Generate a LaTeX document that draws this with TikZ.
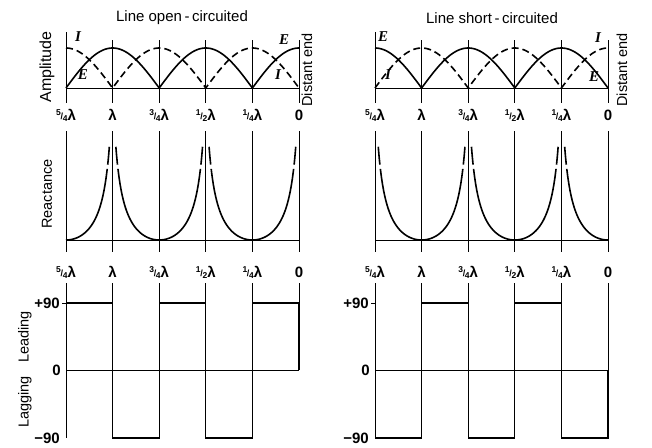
\documentclass[tikz,border=0pt]{standalone}
\usepackage{fontspec}
\setmainfont{Liberation Sans}
\newfontfamily\letterfont{Liberation Serif}
\usepackage{tikz}
\usetikzlibrary{positioning}
\newcommand{\fr}[2]{\raisebox{0.6ex}{\fontsize{8.5}{8.5}\selectfont#1}\kern-0.02em\raisebox{0.1ex}{\fontsize{9}{9}\selectfont/}\kern-0.02em\raisebox{-0.1ex}{\fontsize{8.5}{8.5}\selectfont#2}}
\tikzset{
  grid line/.style={line width=0.8pt},
  E curve/.style={line width=1.6pt},
  I curve/.style={line width=1.6pt, dash pattern=on 7pt off 4pt},
  wave/.style={line width=1.3pt},
  tick label/.style={font=\fontsize{15}{15}\selectfont\bfseries, inner sep=0pt},
  axis label/.style={font=\fontsize{14.5}{14.5}\selectfont, inner sep=0pt, rotate=90},
  title label/.style={font=\fontsize{15}{15}\selectfont, inner sep=0pt},
  vi label/.style={font=\letterfont\fontsize{15}{15}\selectfont\bfseries\itshape, inner sep=0pt},
}
\begin{document}
\begin{tikzpicture}[x=1pt,y=-1pt]
  \useasboundingbox (0,0) rectangle (652,447);

  % Grid lines and position labels of both panels
  \foreach \px in {66,375} {
    \draw[grid line] (\px,32) -- (\px,103);
    \draw[grid line] (\px,88) -- ({\px+233},88);
    \draw[grid line] (\px,240) -- ({\px+233},240);
    \draw[grid line] (\px,283) -- (\px,438);
    \draw[grid line] (\px,370) -- ({\px+233},370);
    \draw[grid line] ({\px-4},303) -- (\px,303);
    \foreach \k/\t in {0/{\fr54λ},1/λ,2/{\fr34λ},3/{\fr12λ},4/{\fr14λ},5/0} {
      \draw[grid line] ({\px+46.6*\k},40) -- ({\px+46.6*\k},103);
      \draw[grid line] ({\px+46.6*\k},131) -- ({\px+46.6*\k},252);
      \draw[grid line] ({\px+46.6*\k},283) -- ({\px+46.6*\k},370);
      \node[tick label] (top-\px-\k) at ({\px+46.6*\k},115) {\t};
      \node[tick label] (mid-\px-\k) at ({\px+46.6*\k},272) {\t};
    }
    \coordinate (p90-\px) at ({\px-5},303);
    \coordinate (zero-\px) at ({\px-3},370);
    \coordinate (m90-\px) at ({\px-5},438);
    \node[tick label, left=1pt of p90-\px] (p90lbl-\px) {+90};
    \node[tick label, left=2pt of zero-\px] (zerolbl-\px) {0};
    \node[tick label, left=1pt of m90-\px] (m90lbl-\px) {−90};
  }

  % Left panel: line open-circuited
  \node[title label] (titleL) at (182,18) {Line open\,-\,circuited};
  \node[axis label, font=\fontsize{16}{16}\selectfont] (amp) at (47,67) {Amplitude};
  \node[axis label] (distL) at (307,70) {Distant end};
  \node[axis label] (react) at (47,194) {Reactance};
  \node[axis label] (lead) at (25,337) {Leading};
  \node[axis label] (lag) at (25,402) {Lagging};
  \draw[E curve] plot[domain=0:5, samples=201] ({66+46.6*\x},{88-40*abs(sin(90*\x))});
  \draw[I curve] plot[domain=0:5, samples=201] ({66+46.6*\x},{88-40*abs(cos(90*\x))});
  \node[vi label] (IL1) at (78,37) {I};
  \node[vi label] (EL1) at (83,75) {E};
  \node[vi label] (EL2) at (284,40) {E};
  \node[vi label] (IL2) at (278,75) {I};
  \foreach \z/\s in {0/1,2/-1,2/1,4/-1,4/1} {
    \draw[E curve] plot[domain=0:0.885, samples=40] ({66+46.6*(\z+\s*\x)},{240-28*\x*tan(80*\x)});
    \draw[E curve] plot[domain=0.895:0.93, samples=6] ({66+46.6*(\z+\s*\x)},{240-28*\x*tan(80*\x)});
  }
  \draw[wave] (66,303) -| (112.6,438) -| (159.2,303) -| (205.8,438) -| (252.4,303) -| (299,370);

  % Right panel: line short-circuited
  \node[title label] (titleR) at (492,18) {Line short\,-\,circuited};
  \node[axis label] (distR) at (622,70) {Distant end};
  \draw[E curve] plot[domain=0:5, samples=201] ({375+46.6*\x},{88-40*abs(cos(90*\x))});
  \draw[I curve] plot[domain=0:5, samples=201] ({375+46.6*\x},{88-40*abs(sin(90*\x))});
  \node[vi label] (ER1) at (383,37) {E};
  \node[vi label] (IR1) at (388,75) {I};
  \node[vi label] (IR2) at (598,38) {I};
  \node[vi label] (ER2) at (594,77) {E};
  \foreach \z/\s in {1/-1,1/1,3/-1,3/1,5/-1} {
    \draw[E curve] plot[domain=0:0.885, samples=40] ({375+46.6*(\z+\s*\x)},{240-28*\x*tan(80*\x)});
    \draw[E curve] plot[domain=0.895:0.93, samples=6] ({375+46.6*(\z+\s*\x)},{240-28*\x*tan(80*\x)});
  }
  \draw[wave] (375,438) -| (421.6,303) -| (468.2,438) -| (514.8,303) -| (561.4,438) -| (608,370);
\end{tikzpicture}
\end{document}
